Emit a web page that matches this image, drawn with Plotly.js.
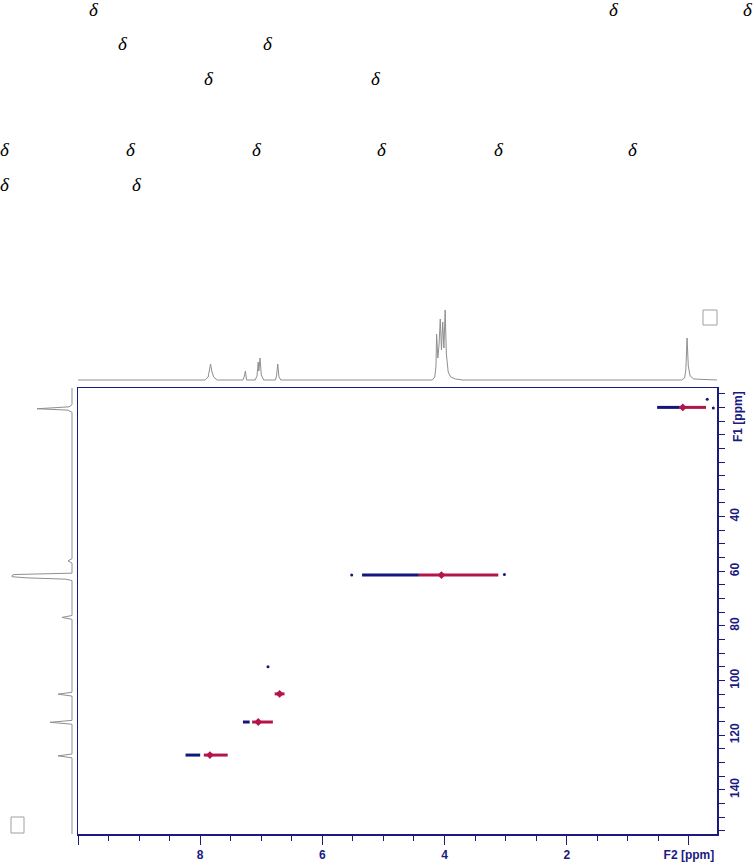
<!DOCTYPE html>
<html>
<head>
<meta charset="utf-8">
<script src="https://cdn.plot.ly/plotly-3.0.1.min.js"></script>
<style>html,body{margin:0;padding:0;background:#fff;}#chart{width:755px;height:867px;}</style>
</head>
<body>
<div id="chart"></div>
<script>
// ---- 1D projection along F2 (top), ppm vs intensity
const topPpm = [10.0, 7.92, 7.87, 7.85, 7.83, 7.81, 7.78, 7.72, 7.30, 7.28, 7.26, 7.24, 7.10, 7.07, 7.05, 7.04, 7.02, 7.00, 6.96, 6.77, 6.75, 6.73, 6.71, 6.68,
  4.20, 4.16, 4.14, 4.13, 4.11, 4.09, 4.07, 4.05, 4.03, 4.01, 3.99, 3.97, 3.94, 3.90, 3.82, 3.70,
  0.12, 0.07, 0.05, 0.03, 0.01, -0.02, -0.08, -0.46];
const topInt = [0, 0, 3, 10, 16, 9, 3, 0, 0, 3, 9, 0, 0, 4, 18, 9, 22, 5, 0, 0, 4, 16, 3, 0,
  0, 3, 14, 46, 22, 35, 61, 30, 58, 32, 70, 26, 8, 3, 1, 0,
  0, 2, 10, 42, 14, 4, 1, 0];

// ---- 1D projection along F1 (left), ppm vs intensity
const leftPpm = [-7.1, -1.0, -0.2, 0.5, 1.0, 1.8, 55.4, 56.2, 57.0, 60.7, 61.2, 61.6, 62.0, 62.4, 62.9, 63.4,
  76.2, 76.9, 77.6, 104.3, 105.0, 105.7, 114.6, 115.3, 116.0, 126.9, 127.6, 128.3, 156.2];
const leftInt = [0, 0, 3, 35, 4, 0, 0, 4, 0, 0, 58, 60, 60, 46, 6, 0,
  0, 10, 0, 0, 14, 0, 0, 22, 0, 0, 14, 0, 0];

// ---- HSQC cross peaks (F1 13C ppm, F2 1H ppm extents)
const crossF1    = [0.0, 61.4, 104.9, 115.2, 127.3];
const blueStart  = [0.52, 5.35, null, 7.30, 8.24];
const blueEnd    = [0.15, 4.42, null, 7.19, 8.00];
const redStart   = [0.15, 4.42, 6.78, 7.15, 7.94];
const redEnd     = [-0.28, 3.12, 6.62, 6.81, 7.55];
const coreF2     = [0.10, 4.05, 6.70, 7.05, 7.84];
const dotF2 = [-0.30, -0.40, 5.52, 6.89, 3.02];
const dotF1 = [-3.0, 0.2, 61.4, 95.0, 61.2];

// ---- axis ticks
const xTickVals = [10, 8, 6, 4, 2, 0];
const xTickText = ['', '8', '6', '4', '2', 'F2 [ppm]'];
const yTickVals = [40, 60, 80, 100, 120, 140];
const yTickText = ['40', '60', '80', '100', '120', '140'];

const NAVY = '#1a1a80';
const BLUE = '#15157a';
const RED = '#b3154a';
const GRAY = '#8f8f8f';

const traces = [];
traces.push({x: topPpm, y: topInt, xaxis: 'x2', yaxis: 'y2', type: 'scatter', mode: 'lines',
  line: {color: GRAY, width: 1}, hoverinfo: 'skip', showlegend: false});
traces.push({x: leftInt, y: leftPpm, xaxis: 'x3', yaxis: 'y3', type: 'scatter', mode: 'lines',
  line: {color: GRAY, width: 1}, hoverinfo: 'skip', showlegend: false});

for (let i = 0; i < crossF1.length; i++) {
  if (blueStart[i] !== null) {
    traces.push({x: [blueStart[i], blueEnd[i]], y: [crossF1[i], crossF1[i]], type: 'scatter', mode: 'lines',
      line: {color: BLUE, width: 3}, showlegend: false, hoverinfo: 'skip'});
  }
  traces.push({x: [redStart[i], redEnd[i]], y: [crossF1[i], crossF1[i]], type: 'scatter', mode: 'lines',
    line: {color: RED, width: 3}, showlegend: false, hoverinfo: 'skip'});
}
traces.push({x: coreF2, y: crossF1, type: 'scatter', mode: 'markers',
  marker: {color: RED, size: 6, symbol: 'diamond'}, showlegend: false, hoverinfo: 'skip'});
traces.push({x: dotF2, y: dotF1, type: 'scatter', mode: 'markers',
  marker: {color: BLUE, size: 3}, showlegend: false, hoverinfo: 'skip'});

// decorative stray delta glyphs (pixel positions in the page)
const deltaPos = [[94, 9], [614, 9], [748, 9], [123, 44], [268, 44], [209, 79], [376, 79],
  [5, 149], [131, 149], [257, 149], [382, 149], [499, 149], [633, 149], [5, 184], [137, 184]];
const W = 755, H = 867;
const annotations = deltaPos.map(p => ({
  xref: 'paper', yref: 'paper', x: p[0] / W, y: 1 - p[1] / H, xanchor: 'center', yanchor: 'middle',
  text: '<i>δ</i>', showarrow: false, font: {family: 'Liberation Serif', size: 19, color: '#000'}
}));
annotations.push({xref: 'paper', yref: 'paper', x: 738 / W, y: 1 - 417 / H, xanchor: 'center', yanchor: 'middle',
  text: 'F1 [ppm]', textangle: -90, showarrow: false,
  font: {family: 'Liberation Sans', size: 12, color: NAVY, weight: 'bold'}});

const tickFont = {family: 'Liberation Sans', size: 12, color: NAVY, weight: 'bold'};

const layout = {
  width: W, height: H, margin: {l: 0, r: 0, t: 0, b: 0},
  paper_bgcolor: '#fff', plot_bgcolor: '#fff', showlegend: false,
  xaxis: {domain: [78 / W, 717 / W], range: [10.0, -0.46], anchor: 'y',
    showline: true, mirror: true, linecolor: NAVY, linewidth: 1.5,
    showgrid: false, zeroline: false,
    tickmode: 'array', tickvals: xTickVals, ticktext: xTickText,
    ticks: 'outside', ticklen: 9, tickwidth: 1, tickcolor: NAVY, tickfont: tickFont,
    minor: {tickmode: 'linear', tick0: 0, dtick: 0.5, ticks: 'outside', ticklen: 5, tickcolor: NAVY, showgrid: false}},
  yaxis: {domain: [1 - 834 / H, 1 - 388 / H], range: [156.2, -7.1], anchor: 'x', side: 'right',
    showline: true, mirror: true, linecolor: NAVY, linewidth: 1.5,
    showgrid: false, zeroline: false,
    tickmode: 'array', tickvals: yTickVals, ticktext: yTickText, tickangle: -90,
    ticks: 'outside', ticklen: 6, tickwidth: 1, tickcolor: NAVY, tickfont: tickFont,
    minor: {tickmode: 'linear', tick0: 0, dtick: 5, ticks: 'outside', ticklen: 6, tickcolor: NAVY, showgrid: false}},
  xaxis2: {domain: [78 / W, 717 / W], matches: 'x', anchor: 'y2', visible: false},
  yaxis2: {domain: [1 - 383 / H, 1 - 300 / H], range: [-3, 80], anchor: 'x2', visible: false},
  xaxis3: {domain: [0, 73 / W], range: [72, -1], anchor: 'y3', visible: false},
  yaxis3: {domain: [1 - 834 / H, 1 - 388 / H], matches: 'y', anchor: 'x3', visible: false},
  annotations: annotations,
  shapes: [
    {type: 'rect', xref: 'paper', yref: 'paper', x0: 703 / W, x1: 717 / W, y0: 1 - 325 / H, y1: 1 - 310 / H,
      line: {color: '#a0a0a0', width: 1}},
    {type: 'rect', xref: 'paper', yref: 'paper', x0: 11 / W, x1: 24 / W, y0: 1 - 833 / H, y1: 1 - 817 / H,
      line: {color: '#a0a0a0', width: 1}}
  ]
};

Plotly.newPlot('chart', traces, layout, {displayModeBar: false, staticPlot: true});
</script>
</body>
</html>
